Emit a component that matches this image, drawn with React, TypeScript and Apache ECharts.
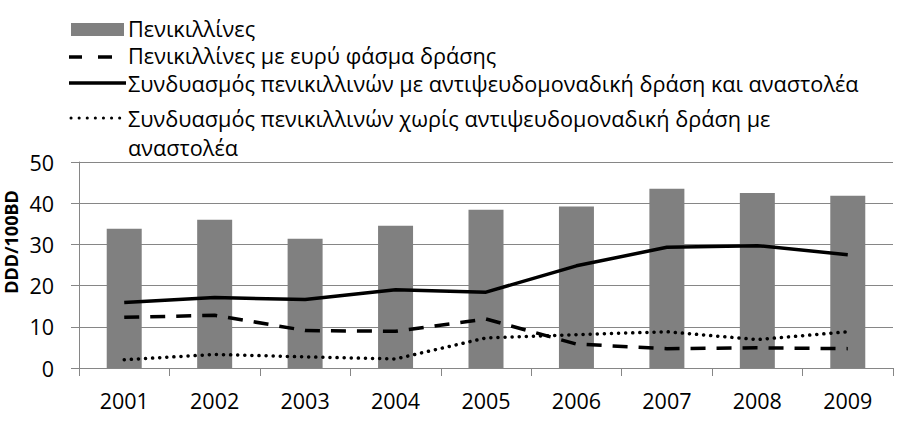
import React, { useEffect, useRef } from "react";
import * as echarts from "echarts";

const years = ["2001", "2002", "2003", "2004", "2005", "2006", "2007", "2008", "2009"];
const penicillins = [33.8, 36.0, 31.4, 34.5, 38.4, 39.2, 43.5, 42.5, 41.8];
const broadSpectrum = [12.3, 12.8, 9.1, 8.9, 11.9, 5.8, 4.7, 4.9, 4.7];
const antipseudoInhib = [15.9, 17.1, 16.6, 19.0, 18.4, 24.8, 29.3, 29.7, 27.5];
const nonAntipseudoInhib = [2.0, 3.3, 2.7, 2.2, 7.3, 8.1, 8.8, 6.9, 8.8];

const seriesNames = [
  "Πενικιλλίνες",
  "Πενικιλλίνες με ευρύ φάσμα δράσης",
  "Συνδυασμός πενικιλλινών με αντιψευδομοναδική δράση και αναστολέα",
  "Συνδυασμός πενικιλλινών χωρίς αντιψευδομοναδική δράση με",
  "αναστολέα",
];
const yAxisTitle = "DDD/100BD";

const AXIS_FONT = "'Open Sans', 'Noto Sans', sans-serif";
const LEGEND_FONT = "'Open Sans', 'Noto Sans', sans-serif";
const GRAY = "#868686";

export default function App() {
  const ref = useRef<HTMLDivElement>(null);
  useEffect(() => {
    document.body.style.margin = "0";
    if (!ref.current) return;
    const chart = echarts.init(ref.current, undefined, { renderer: "svg" });
    const legendText = (text: string, y: number) => ({
      type: "text",
      x: 128,
      y,
      style: {
        text,
        fill: "#000",
        font: `21.7px ${LEGEND_FONT}`,
        lineHeight: 22,
        textAlign: "left",
        textVerticalAlign: "middle",
      },
    });
    chart.setOption({
      animation: false,
      grid: { left: 79, right: 18, top: 162, bottom: 74, containLabel: false },
      xAxis: {
        type: "category",
        data: years,
        boundaryGap: true,
        axisLine: { show: true, lineStyle: { color: GRAY, width: 1 } },
        axisTick: { show: true, length: 8, lineStyle: { color: GRAY } },
        axisLabel: { color: "#000", fontSize: 21.5, fontFamily: AXIS_FONT, margin: 21 },
        splitLine: { show: false },
      },
      yAxis: {
        type: "value",
        min: 0,
        max: 50,
        interval: 10,
        axisLine: { show: true, lineStyle: { color: GRAY, width: 1 } },
        axisTick: { show: true, length: 8, lineStyle: { color: GRAY } },
        axisLabel: { color: "#000", fontSize: 21.5, fontFamily: AXIS_FONT, margin: 25 },
        splitLine: { show: true, lineStyle: { color: GRAY, width: 1 } },
      },
      series: [
        {
          name: seriesNames[0],
          type: "bar",
          data: penicillins,
          barWidth: 35,
          itemStyle: { color: "#808080" },
        },
        {
          name: seriesNames[1],
          type: "line",
          data: broadSpectrum,
          symbol: "none",
          lineStyle: { color: "#000", width: 3.5, type: [15, 11] },
        },
        {
          name: seriesNames[2],
          type: "line",
          data: antipseudoInhib,
          symbol: "none",
          lineStyle: { color: "#000", width: 3.5, type: "solid" },
        },
        {
          name: seriesNames[3] + " " + seriesNames[4],
          type: "line",
          data: nonAntipseudoInhib,
          symbol: "none",
          lineStyle: { color: "#000", width: 3.5, type: [0.1, 7], cap: "round" },
        },
      ],
      graphic: [
        { type: "rect", shape: { x: 71, y: 23, width: 53, height: 13 }, style: { fill: "#808080" } },
        { type: "line", shape: { x1: 69, y1: 57, x2: 82, y2: 57 }, style: { stroke: "#000", lineWidth: 3.5 } },
        { type: "line", shape: { x1: 98, y1: 57, x2: 112, y2: 57 }, style: { stroke: "#000", lineWidth: 3.5 } },
        { type: "line", shape: { x1: 69, y1: 83, x2: 126, y2: 83 }, style: { stroke: "#000", lineWidth: 3.5 } },
        {
          type: "line",
          shape: { x1: 71, y1: 118, x2: 120, y2: 118 },
          style: { stroke: "#000", lineWidth: 3, lineDash: [0.1, 8], lineCap: "round" },
        },
        legendText(seriesNames[0], 28),
        legendText(seriesNames[1], 55.5),
        legendText(seriesNames[2], 83),
        legendText(seriesNames[3], 118),
        legendText(seriesNames[4], 147),
        {
          type: "text",
          x: 11,
          y: 242,
          rotation: Math.PI / 2,
          style: {
            text: yAxisTitle,
            fill: "#000",
            font: `bold 18px ${AXIS_FONT}`,
            textAlign: "center",
            textVerticalAlign: "middle",
          },
        },
      ],
    });
    return () => chart.dispose();
  }, []);
  return <div ref={ref} style={{ width: 911, height: 442 }} />;
}
